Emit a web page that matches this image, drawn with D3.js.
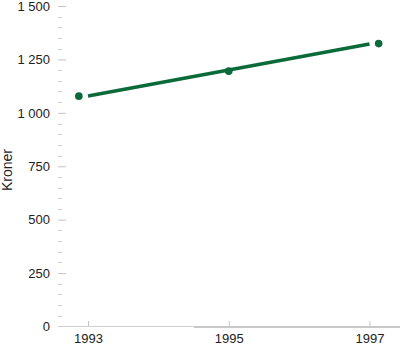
<!DOCTYPE html>
<html>
<head>
<meta charset="utf-8">
<script src="https://cdn.jsdelivr.net/npm/d3@7"></script>
<style>
  body { margin: 0; background: #fff; }
  text { font-family: "Liberation Sans", Arial, sans-serif; }
</style>
</head>
<body>
<svg width="400" height="346"></svg>
<script>
// observed points (dots) and the trend line drawn through them
var pointYears = [1992.87, 1995, 1997.13];
var pointValues = [1078, 1195, 1324];
var lineYears = [1993, 1997];
var lineValues = [1079, 1322];
var yTicks = [0, 250, 500, 750, 1000, 1250, 1500];
var yTickLabels = ["0", "250", "500", "750", "1 000", "1 250", "1 500"];
var xTicks = [1993, 1995, 1997];

var svg = d3.select("svg");
var green = "#0b6a3a";

var x = d3.scaleLinear().domain([1993, 1997]).range([88, 369.5]);
var y = d3.scaleLinear().domain([0, 1500]).range([326.5, 6]);

// minor y ticks every 50
var minor = d3.range(0, 1501, 50).filter(d => d % 250 !== 0);
svg.append("g").selectAll("line").data(minor).enter().append("line")
    .attr("x1", 58).attr("x2", 62)
    .attr("y1", d => Math.round(y(d)) + 0.5).attr("y2", d => Math.round(y(d)) + 0.5)
    .attr("stroke", "#cfcfcf");

// major y ticks with labels
var yAxis = d3.axisLeft(y).tickValues(yTicks)
    .tickFormat((d, i) => yTickLabels[i])
    .tickSize(8).tickPadding(8);
var yG = svg.append("g").attr("transform", "translate(66,0)").call(yAxis);
yG.select(".domain").remove();
yG.selectAll(".tick line").attr("stroke", "#c4c4c4");
yG.selectAll(".tick text").attr("font-size", 13).attr("fill", "#222")
    .attr("font-family", "Liberation Sans, Arial, sans-serif");
yG.selectAll(".tick").filter(d => d === 0).select("line").remove();

// x axis baseline
svg.append("line").attr("x1", 58).attr("x2", 194).attr("y1", 326.5).attr("y2", 326.5)
    .attr("stroke", "#cfcfcf");
svg.append("line").attr("x1", 194).attr("x2", 400).attr("y1", 327).attr("y2", 327)
    .attr("stroke", "#c8c8c8").attr("stroke-width", 2);

var xAxis = d3.axisBottom(x).tickValues(xTicks).tickFormat(d3.format("d"))
    .tickSizeInner(-5).tickSizeOuter(0).tickPadding(8);
var xG = svg.append("g").attr("transform", "translate(0,326)").call(xAxis);
xG.select(".domain").remove();
xG.selectAll(".tick line").attr("stroke", "#c4c4c4");
xG.selectAll(".tick text").attr("font-size", 13).attr("fill", "#222")
    .attr("font-family", "Liberation Sans, Arial, sans-serif");

// y title
svg.append("text")
    .attr("transform", "translate(12,170) rotate(-90)")
    .attr("text-anchor", "middle")
    .attr("font-size", 14).attr("fill", "#222")
    .text("Kroner");

// trend line
svg.append("path")
    .datum(lineYears.map((d, i) => [d, lineValues[i]]))
    .attr("d", d3.line().x(d => x(d[0])).y(d => y(d[1])))
    .attr("stroke", green).attr("stroke-width", 3.5).attr("fill", "none");

// points
svg.selectAll("circle.pt").data(pointYears).enter().append("circle")
    .attr("class", "pt")
    .attr("cx", d => x(d))
    .attr("cy", (d, i) => y(pointValues[i]))
    .attr("r", 3.8)
    .attr("fill", green);
</script>
</body>
</html>
